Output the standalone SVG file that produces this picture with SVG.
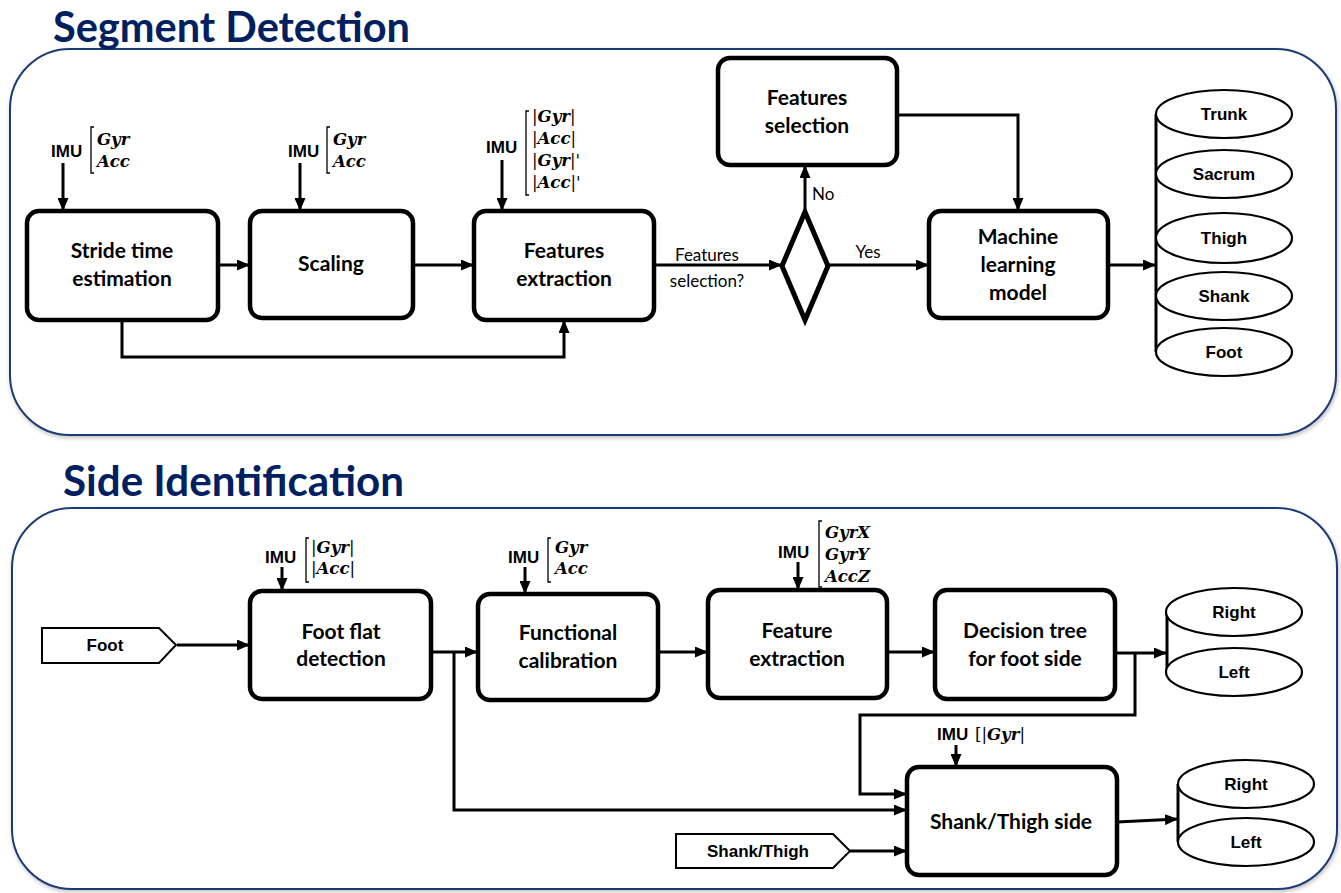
<svg xmlns="http://www.w3.org/2000/svg" width="1341" height="893" viewBox="0 0 1341 893">
<defs>
<marker id="ah" markerUnits="userSpaceOnUse" markerWidth="13" markerHeight="11" refX="13" refY="5.5" orient="auto">
<path d="M0,0 L13,5.5 L0,11 z" fill="#000"/>
</marker>
<filter id="sh" x="-5%" y="-5%" width="110%" height="110%">
<feDropShadow dx="1" dy="2" stdDeviation="2" flood-color="#000" flood-opacity="0.25"/>
</filter>
</defs>
<style>
.frame{fill:#fff;stroke:#1F3A73;stroke-width:2}
.title{font-family:Lato,"Open Sans",sans-serif;font-weight:bold;font-size:42px;fill:#002060}
.box{fill:#fff;stroke:#000;stroke-width:4.5}
.bt{font-family:Lato,"Open Sans",sans-serif;font-weight:bold;font-size:21px;fill:#000;text-anchor:middle}
.lbl{font-family:Lato,"Open Sans",sans-serif;font-size:17px;fill:#000}
.ar{font-family:"Liberation Sans",Arial,sans-serif;font-weight:bold;font-size:17px;fill:#000}
.arc{font-family:"Liberation Sans",Arial,sans-serif;font-weight:bold;font-size:17px;fill:#000;text-anchor:middle}
.m{font-family:"DejaVu Serif",serif;font-weight:bold;font-style:italic;font-size:16.5px;fill:#000}
.u{font-style:normal;font-weight:normal}
.br{fill:none;stroke:#000;stroke-width:1.3}
.ell{fill:#fff;stroke:#000;stroke-width:2.2}
.cl{fill:none;stroke:#000;stroke-width:3}
.c{fill:none;stroke:#000;stroke-width:3;marker-end:url(#ah)}
.flag{fill:#fff;stroke:#000;stroke-width:2}
.dia{fill:#fff;stroke:#000;stroke-width:5}
</style>

<g id="frames">
<rect class="frame" x="10" y="49" width="1326" height="386" rx="60" filter="url(#sh)"/>
<rect class="frame" x="12" y="508" width="1325" height="381" rx="60" filter="url(#sh)"/>
<text class="title" x="53" y="42" textLength="357" lengthAdjust="spacingAndGlyphs">Segment Detection</text>
<text class="title" x="63" y="496" textLength="341" lengthAdjust="spacingAndGlyphs">Side Identification</text>
</g>

<g id="connectors">
<path class="c" d="M63,163 V211"/>
<path class="c" d="M218,265 H250"/>
<path class="c" d="M413,265 H474"/>
<path class="c" d="M122,320 V357 H564 V320"/>
<path class="c" d="M654,265 H782"/>
<path class="c" d="M805,212 V165"/>
<path class="c" d="M828,265 H929"/>
<path class="c" d="M897,115 H1018 V211"/>
<path class="c" d="M1108,265 H1156"/>
<path class="c" d="M300,163 V211"/>
<path class="c" d="M502,160 V211"/>
<path class="c" d="M177,645 H250"/>
<path class="c" d="M282,567 V591"/>
<path class="c" d="M431,652 H478"/>
<path class="c" d="M454,652 V810 H907"/>
<path class="c" d="M525,567 V594"/>
<path class="c" d="M658,652 H708"/>
<path class="c" d="M798,562 V590"/>
<path class="c" d="M887,652 H935"/>
<path class="c" d="M1115,653 H1167"/>
<path class="c" d="M1135,653 V715 H860 V794 H907"/>
<path class="c" d="M956,745 V767"/>
<path class="c" d="M850,851 H907"/>
<path class="c" d="M1117,822 L1178,819"/>
<text class="lbl" x="707" y="261" text-anchor="middle">Features</text>
<text class="lbl" x="707" y="287" text-anchor="middle">selection?</text>
<text class="lbl" x="812" y="200">No</text>
<text class="lbl" x="868" y="258" text-anchor="middle">Yes</text>
</g>

<g id="imu1">
<text class="ar" x="51" y="157">IMU</text>
<path class="br" d="M94,127 H91 V173 H94"/>
<text class="m" x="97" y="145">Gyr</text>
<text class="m" x="97" y="167">Acc</text>
</g>
<g id="imu2">
<text class="ar" x="288" y="157">IMU</text>
<path class="br" d="M330,127 H327 V173 H330"/>
<text class="m" x="333" y="145">Gyr</text>
<text class="m" x="333" y="167">Acc</text>
</g>
<g id="imu3">
<text class="ar" x="486" y="153">IMU</text>
<path class="br" d="M529,111 H526 V195 H529"/>
<text class="m" x="532" y="122"><tspan class="u">|</tspan>Gyr<tspan class="u">|</tspan></text>
<text class="m" x="532" y="144"><tspan class="u">|</tspan>Acc<tspan class="u">|</tspan></text>
<text class="m" x="532" y="166"><tspan class="u">|</tspan>Gyr<tspan class="u">|'</tspan></text>
<text class="m" x="532" y="188"><tspan class="u">|</tspan>Acc<tspan class="u">|'</tspan></text>
</g>

<g id="stride">
<rect class="box" x="27" y="211" width="191" height="109" rx="12"/>
<text class="bt" x="122" y="258">Stride time</text>
<text class="bt" x="122" y="286">estimation</text>
</g>
<g id="scaling">
<rect class="box" x="250" y="211" width="163" height="107" rx="12"/>
<text class="bt" x="331" y="271">Scaling</text>
</g>
<g id="featext">
<rect class="box" x="474" y="211" width="180" height="109" rx="12"/>
<text class="bt" x="564" y="258">Features</text>
<text class="bt" x="564" y="286">extraction</text>
</g>
<g id="decision">
<path class="dia" d="M805,212 L828,266 L805,320 L782,266 z"/>
</g>
<g id="featsel">
<rect class="box" x="718" y="58" width="179" height="107" rx="12"/>
<text class="bt" x="807" y="105">Features</text>
<text class="bt" x="807" y="133">selection</text>
</g>
<g id="ml">
<rect class="box" x="929" y="211" width="179" height="107" rx="12"/>
<text class="bt" x="1018" y="244">Machine</text>
<text class="bt" x="1018" y="272">learning</text>
<text class="bt" x="1018" y="300">model</text>
</g>

<g id="segments">
<path class="cl" d="M1156,114 V352"/>
<ellipse class="ell" cx="1224" cy="114" rx="68" ry="24"/>
<text class="arc" x="1224" y="120">Trunk</text>
<ellipse class="ell" cx="1224" cy="174" rx="68" ry="24"/>
<text class="arc" x="1224" y="180">Sacrum</text>
<ellipse class="ell" cx="1224" cy="238" rx="68" ry="25"/>
<text class="arc" x="1224" y="244">Thigh</text>
<ellipse class="ell" cx="1224" cy="296" rx="68" ry="24"/>
<text class="arc" x="1224" y="302">Shank</text>
<ellipse class="ell" cx="1224" cy="352" rx="68" ry="24"/>
<text class="arc" x="1224" y="358">Foot</text>
</g>

<g id="footflag">
<path class="flag" d="M42,628 H159 L176,645 L159,663 H42 z"/>
<text class="arc" x="105" y="651">Foot</text>
</g>
<g id="imu4">
<text class="ar" x="265" y="563">IMU</text>
<path class="br" d="M309,538 H306 V582 H309"/>
<text class="m" x="311" y="553"><tspan class="u">|</tspan>Gyr<tspan class="u">|</tspan></text>
<text class="m" x="311" y="574"><tspan class="u">|</tspan>Acc<tspan class="u">|</tspan></text>
</g>
<g id="imu5">
<text class="ar" x="508" y="563">IMU</text>
<path class="br" d="M551,538 H548 V582 H551"/>
<text class="m" x="555" y="553">Gyr</text>
<text class="m" x="555" y="574">Acc</text>
</g>
<g id="imu6">
<text class="ar" x="778" y="558">IMU</text>
<path class="br" d="M822,521 H819 V587 H822"/>
<text class="m" x="825" y="538">GyrX</text>
<text class="m" x="825" y="560">GyrY</text>
<text class="m" x="825" y="582">AccZ</text>
</g>
<g id="imu7">
<text class="ar" x="937" y="740">IMU</text>
<text class="m" x="975" y="740"><tspan class="u">[|</tspan>Gyr<tspan class="u">|</tspan></text>
</g>

<g id="footflat">
<rect class="box" x="250" y="591" width="181" height="108" rx="12"/>
<text class="bt" x="341" y="639">Foot flat</text>
<text class="bt" x="341" y="666">detection</text>
</g>
<g id="funcal">
<rect class="box" x="478" y="594" width="180" height="106" rx="12"/>
<text class="bt" x="568" y="640">Functional</text>
<text class="bt" x="568" y="668">calibration</text>
</g>
<g id="featext2">
<rect class="box" x="708" y="590" width="179" height="108" rx="12"/>
<text class="bt" x="797" y="638">Feature</text>
<text class="bt" x="797" y="666">extraction</text>
</g>
<g id="dtree">
<rect class="box" x="935" y="590" width="180" height="109" rx="12"/>
<text class="bt" x="1025" y="638">Decision tree</text>
<text class="bt" x="1025" y="666">for foot side</text>
</g>
<g id="footside">
<path class="cl" d="M1167,612 V672"/>
<ellipse class="ell" cx="1234" cy="612" rx="68" ry="24"/>
<text class="arc" x="1234" y="618">Right</text>
<ellipse class="ell" cx="1234" cy="672" rx="68" ry="24"/>
<text class="arc" x="1234" y="678">Left</text>
</g>

<g id="shankflag">
<path class="flag" d="M676,834 H833 L850,851 L833,868 H676 z"/>
<text class="arc" x="758" y="857">Shank/Thigh</text>
</g>
<g id="shankside">
<rect class="box" x="907" y="767" width="210" height="108" rx="12"/>
<text class="bt" x="1011" y="829">Shank/Thigh side</text>
</g>
<g id="shankout">
<path class="cl" d="M1178,784 V842"/>
<ellipse class="ell" cx="1246" cy="784" rx="68" ry="24"/>
<text class="arc" x="1246" y="790">Right</text>
<ellipse class="ell" cx="1246" cy="842" rx="68" ry="24"/>
<text class="arc" x="1246" y="848">Left</text>
</g>
</svg>
